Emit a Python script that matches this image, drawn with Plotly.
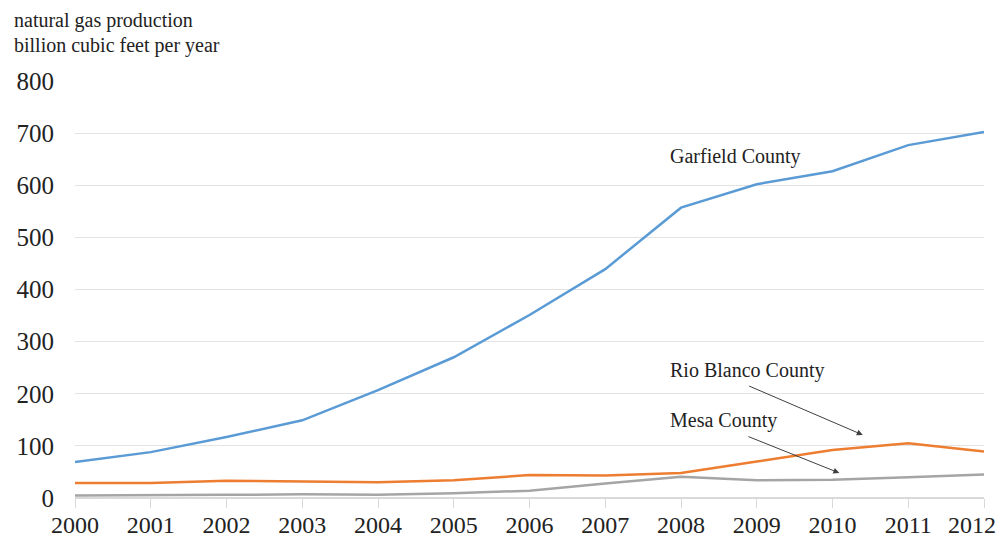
import plotly.graph_objects as go

years = list(range(2000, 2013))
garfield = [69, 88, 117, 149, 207, 270, 351, 439, 557, 602, 627, 677, 702]
rio_blanco = [29, 29, 33, 32, 30, 34, 44, 43, 48, 70, 92, 105, 89]
mesa = [5, 5, 6, 7, 6, 9, 14, 28, 41, 34, 35, 40, 45]
y_ticks = [0, 100, 200, 300, 400, 500, 600, 700, 800]
x_labels = [str(y) for y in years]

W, H = 1001, 541
L, R, T, B = 75, 17, 81, 43
FONT = "Liberation Serif"

fig = go.Figure()
for name, vals, col in [
    ("Mesa County", mesa, "#A5A5A5"),
    ("Rio Blanco County", rio_blanco, "#ED7D31"),
    ("Garfield County", garfield, "#5B9BD5"),
]:
    fig.add_trace(go.Scatter(x=years, y=vals, mode="lines", name=name,
                             line=dict(color=col, width=2.5)))

def px2paper(px, py):
    return (px - L) / (W - L - R), 1 - (py - T) / (H - T - B)

tx1, ty1 = px2paper(12, 20)
tx2, ty2 = px2paper(12, 45)
_, ly = px2paper(0, 525)

# last label is drawn as an annotation nudged left so it stays inside the page
ticktext = x_labels[:-1] + [""]

txt = dict(family=FONT, size=20, color="#222222")
annotations = [
    dict(text="natural gas production", x=tx1, y=ty1, xref="paper", yref="paper",
         xanchor="left", yanchor="middle", showarrow=False, font=txt),
    dict(text="billion cubic feet per year", x=tx2, y=ty2, xref="paper", yref="paper",
         xanchor="left", yanchor="middle", showarrow=False, font=txt),
    dict(text="Garfield County", x=2007.83, y=655, xref="x", yref="y",
         xanchor="left", yanchor="middle", showarrow=False, font=txt),
    dict(text="Rio Blanco County", x=2007.83, y=245, xref="x", yref="y",
         xanchor="left", yanchor="middle", showarrow=False, font=txt),
    dict(text="Mesa County", x=2007.83, y=149, xref="x", yref="y",
         xanchor="left", yanchor="middle", showarrow=False, font=txt),
    dict(text=x_labels[-1], x=years[-1], y=ly, xref="x", yref="paper",
         xanchor="center", yanchor="middle", xshift=-12, showarrow=False,
         font=dict(family=FONT, size=24, color="#222222")),
    dict(text="", x=2010.40, y=121, ax=2008.88, ay=216, xref="x", yref="y",
         axref="x", ayref="y", showarrow=True, arrowhead=2, arrowsize=1.2,
         arrowwidth=1, arrowcolor="#404040"),
    dict(text="", x=2010.09, y=48, ax=2008.87, ay=119, xref="x", yref="y",
         axref="x", ayref="y", showarrow=True, arrowhead=2, arrowsize=1.2,
         arrowwidth=1, arrowcolor="#404040"),
]

fig.update_layout(
    width=W, height=H,
    margin=dict(l=L, r=R, t=T, b=B, autoexpand=False),
    paper_bgcolor="white", plot_bgcolor="white",
    showlegend=False,
    annotations=annotations,
    xaxis=dict(range=[2000, 2012], tickvals=years, ticktext=ticktext,
               showgrid=False, zeroline=False, showline=False, automargin=False,
               ticks="outside", ticklen=9, tickcolor="#D9D9D9",
               ticklabelstandoff=-4,
               tickfont=dict(family=FONT, size=24, color="#222222")),
    yaxis=dict(range=[0, 800], tickvals=y_ticks, showgrid=True, gridcolor="#E3E3E3",
               gridwidth=1, zeroline=True, zerolinecolor="#D9D9D9", zerolinewidth=1.5,
               showline=False, ticklabelstandoff=20, automargin=False,
               tickfont=dict(family=FONT, size=25, color="#222222")),
)

fig.write_html("out.html", config={"displayModeBar": False},
               post_script="document.body.style.margin='0px';")
